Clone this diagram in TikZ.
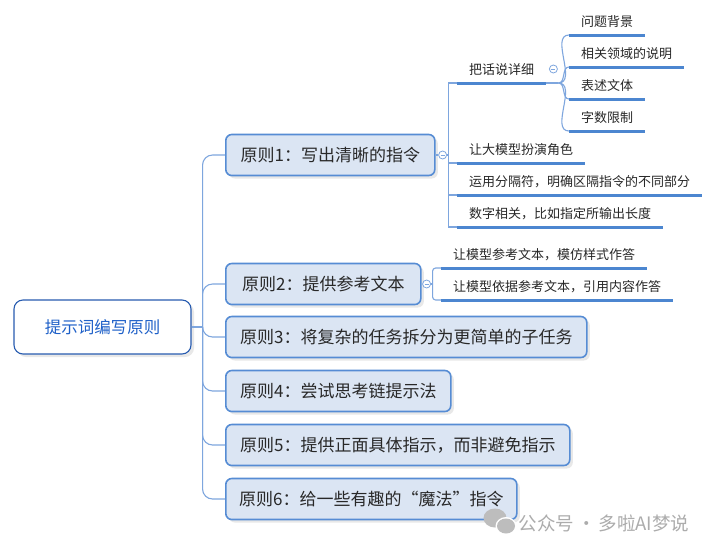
\documentclass[tikz,border=0pt]{standalone}
\usepackage{fontspec}
\setmainfont{Noto Sans CJK SC}
\usetikzlibrary{positioning,calc,shadows}
\definecolor{rootBlue}{RGB}{40,92,176}
\definecolor{rootText}{RGB}{30,96,200}
\definecolor{boxFill}{RGB}{219,229,243}
\definecolor{boxLine}{RGB}{86,140,212}
\definecolor{linkBlue}{RGB}{126,166,222}
\definecolor{barBlue}{RGB}{76,134,208}
\definecolor{txtGray}{RGB}{40,40,40}
\definecolor{markGray}{RGB}{172,172,172}

\begin{document}
\begin{tikzpicture}[x=1pt,y=-1pt,
  rootbox/.style={draw=rootBlue,line width=1.1,fill=white,rounded corners=9,minimum width=177,minimum height=54,text=rootText,font=\fontsize{16.5}{20}\selectfont,drop shadow={shadow xshift=3pt,shadow yshift=-3pt,opacity=0.18}},
  rule/.style={draw=boxLine,line width=1.6,fill=boxFill,rounded corners=6,minimum height=41,anchor=west,text=txtGray,font=\fontsize{17}{20}\selectfont,text height=14,text depth=1.5,drop shadow={shadow xshift=3pt,shadow yshift=-3pt,opacity=0.18}},
  leaf/.style={anchor=south west,inner xsep=12,inner ysep=0,text height=11,text depth=8,text=txtGray,font=\fontsize{13}{16}\selectfont},
  bar/.style={draw=barBlue,line width=3},
  link/.style={draw=linkBlue,line width=1.1},
  btn/.style={circle,draw=linkBlue,fill=white,line width=0.8,minimum size=8,inner sep=0,path picture={\draw[linkBlue,line width=0.6] ([xshift=2pt]path picture bounding box.west) -- ([xshift=-2pt]path picture bounding box.east);}}]
\fill[white] (0,0) rectangle (727,552);
\useasboundingbox (0,0) rectangle (727,552);

\node[rootbox] (root) at (102.5,327) {提示词编写原则};
\node[rule,minimum width=209] (p1) at (225,155) {原则1：写出清晰的指令};
\node[rule,minimum width=195] (p2) at (225,284) {原则2：提供参考文本};
\node[rule,minimum width=361] (p3) at (225,337) {原则3：将复杂的任务拆分为更简单的子任务};
\node[rule,minimum width=225] (p4) at (225,391) {原则4：尝试思考链提示法};
\node[rule,minimum width=344] (p5) at (225,445) {原则5：提供正面具体指示，而非避免指示};
\node[rule,minimum width=291] (p6) at (225,499) {原则6：给一些有趣的“魔法”指令};

\node[leaf] (a1) at (457,83) {把话说详细};
\node[leaf] (a2) at (457,163) {让大模型扮演角色};
\node[leaf] (a3) at (457,195) {运用分隔符，明确区隔指令的不同部分};
\node[leaf] (a4) at (457,227) {数字相关，比如指定所输出长度};
\node[leaf] (b1) at (569,35) {问题背景};
\node[leaf] (b2) at (569,67) {相关领域的说明};
\node[leaf] (b3) at (569,99) {表述文体};
\node[leaf] (b4) at (569,131) {字数限制};
\node[leaf] (d1) at (441,268) {让模型参考文本，模仿样式作答};
\node[leaf] (d2) at (441,300) {让模型依据参考文本，引用内容作答};

\coordinate (hub) at ($(root.east)+(11,0)$);
\draw[link] (root) -- (hub);
\foreach \p in {p1,p2,p3,p4,p5,p6}
  \draw[link,rounded corners=10] (hub) |- (\p.west);

\node[btn] (c1) at ($(p1.east)+(7,0)$) {};
\coordinate (j1) at ($(p1.east)+(13,0)$);
\draw[link] (p1) -- (c1);
\draw[link] (c1) -- (j1);
\foreach \a in {a1,a2,a3,a4}
  \draw[link] (j1) |- (\a.south west);

\node[btn] (c2) at ($(a1.south east)+(7,-14)$) {};
\coordinate (fork) at ($(a1.south east)+(12,0)$);
\draw[link] (a1.south east) -- (fork);
\foreach \b in {b1,b2,b3,b4}
  \draw[link] (fork) to[out=0,in=180] (\b.south west);

\node[btn] (c3) at ($(p2.east)+(5,0)$) {};
\coordinate (j2) at ($(p2.east)+(11,0)$);
\draw[link] (c3) -- (j2);
\foreach \d in {d1,d2}
  \draw[link,rounded corners=3] (j2) |- (\d.south west);

\foreach \n in {a1,a2,a3,a4,b1,b2,b3,b4,d1,d2}
  \draw[bar] (\n.south west) -- (\n.south east);

\fill[markGray!80] (495,518) ellipse [x radius=11.5,y radius=9.5];
\fill[white] (506,526) ellipse [x radius=10.5,y radius=9];
\fill[markGray!80] (506,526) ellipse [x radius=9,y radius=7.5];
\node[anchor=west,text=markGray,font=\fontsize{18.5}{22}\selectfont] (mark) at (515,523) {公众号\,·\,多啦AI梦说};
\end{tikzpicture}
\end{document}
